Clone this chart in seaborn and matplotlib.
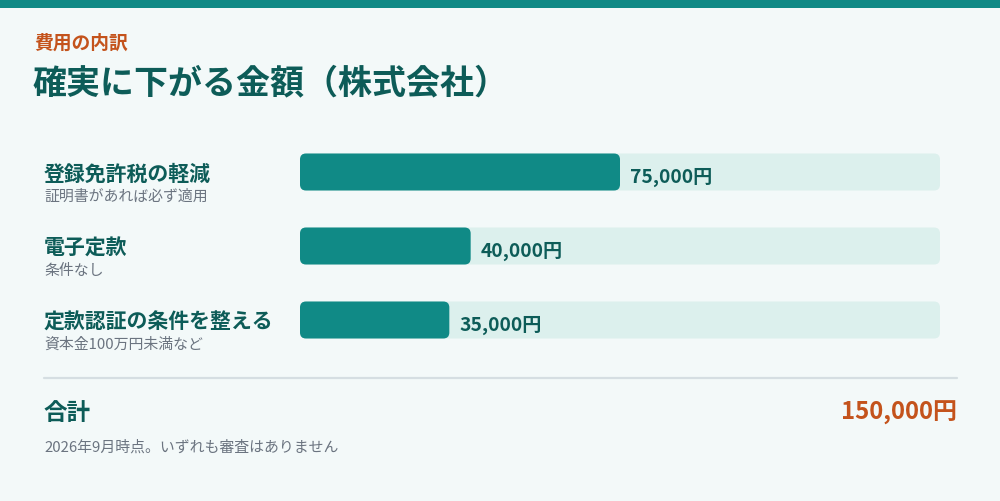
import matplotlib
matplotlib.use('Agg')
import matplotlib.pyplot as plt
import seaborn as sns
import pandas as pd
from matplotlib.patches import FancyBboxPatch, Rectangle
from matplotlib.lines import Line2D
import matplotlib.transforms as mtransforms

sns.set_theme(style='white')
plt.rcParams['font.family'] = ['Noto Sans CJK JP', 'DejaVu Sans']

# data
kicker = '費用の内訳'
title = '確実に下がる金額（株式会社）'
items = ['登録免許税の軽減', '電子定款', '定款認証の条件を整える']
notes = ['証明書があれば必ず適用', '条件なし', '資本金100万円未満など']
amounts = [75000, 40000, 35000]
total = 150000
total_label = '合計'
footnote = '2026年9月時点。いずれも審査はありません'

teal = '#108a86'
track = '#dcf0ed'
bg = '#f3f9f9'
dark = '#0d5c58'
orange = '#c4531c'
gray = '#6b7480'

W, H = 1000, 502
fig = plt.figure(figsize=(W / 100, H / 100), dpi=100, facecolor=bg)

def fx(x):
    return x / W

def fy(y):
    return 1 - y / H

def pt(px):
    return px * 0.72

# top band
fig.patches.append(Rectangle((0, fy(8.5)), 1, 8.5 / H, transform=fig.transFigure,
                             facecolor=teal, edgecolor='none', zorder=0))

fig.text(fx(34), fy(43), kicker, fontsize=pt(18.8), color=orange,
         fontweight='bold', va='center', ha='left')
fig.text(fx(33), fy(83), title, fontsize=pt(34), color=dark,
         fontweight='bold', va='center', ha='left')

# bars
row = 74
top = 173 - row / 2
ax = fig.add_axes([fx(300), fy(top + 3 * row), 640 / W, 3 * row / H])
ax.set_facecolor('none')
df = pd.DataFrame({'item': items, 'amount': amounts, 'full': [total] * len(items)})
sns.barplot(data=df, x='full', y='item', orient='h', color=track, width=0.5,
            linewidth=0, errorbar=None, ax=ax, saturation=1)
sns.barplot(data=df, x='amount', y='item', orient='h', color=teal, width=0.5,
            linewidth=0, errorbar=None, ax=ax, saturation=1)
ax.set_xlim(0, total)
ax.set_ylim(2.5, -0.5)
ax.axis('off')

# rounded corners
x_per_px = total / 640
y_per_px = 1 / row
r = 6
for p in list(ax.patches):
    x0, y0, w, h = p.get_x(), p.get_y(), p.get_width(), p.get_height()
    fc = p.get_facecolor()
    p.remove()
    ax.add_patch(FancyBboxPatch((x0, y0), w, h,
                                boxstyle=f'round,pad=0,rounding_size={r * x_per_px}',
                                mutation_aspect=y_per_px / x_per_px,
                                facecolor=fc, edgecolor='none'))

for i, v in enumerate(amounts):
    ax.text(v + 10 * x_per_px, i + 4 * y_per_px, f'{v:,}円', fontsize=pt(19.2),
            color=dark, fontweight='bold', va='center', ha='left')

tr = mtransforms.blended_transform_factory(fig.transFigure, ax.transData)
for i, (name, note) in enumerate(zip(items, notes)):
    ax.text(fx(44), i + 1 * y_per_px, name, transform=tr, fontsize=pt(20.9),
            color=dark, fontweight='bold', va='center', ha='left')
    ax.text(fx(44), i + 23.5 * y_per_px, note, transform=tr, fontsize=pt(14.9),
            color=gray, va='center', ha='left')

# total
fig.add_artist(Line2D([fx(44), fx(957)], [fy(378.5), fy(378.5)], lw=1.6, color='#d5dee2'))
fig.text(fx(44), fy(413), total_label, fontsize=pt(23.5), color=dark,
         fontweight='bold', va='center', ha='left')
fig.text(fx(957), fy(413), f'{total:,}円', fontsize=pt(24), color=orange,
         fontweight='bold', va='center', ha='right')
fig.text(fx(44), fy(447), footnote, fontsize=pt(14.9), color=gray,
         va='center', ha='left')

fig.savefig('out.png', dpi=100, facecolor=bg)
